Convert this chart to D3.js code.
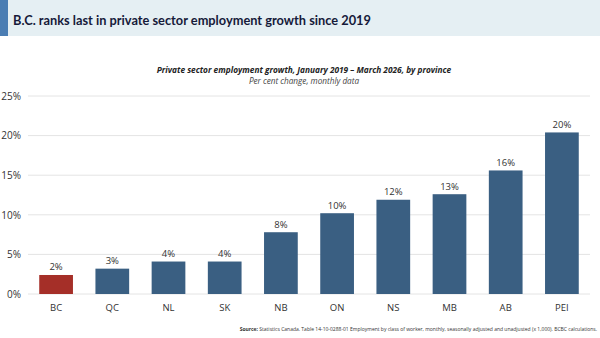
<!DOCTYPE html>
<html>
<head>
<meta charset="utf-8">
<script src="https://cdn.jsdelivr.net/npm/d3@7"></script>
<style>
  body { margin: 0; background: #fff; }
  svg { display: block; font-family: "Open Sans", "Noto Sans", sans-serif; }
</style>
</head>
<body>
<svg width="600" height="338"></svg>
<script>
// Data.
const provinces = ["BC", "QC", "NL", "SK", "NB", "ON", "NS", "MB", "AB", "PEI"];
const growth = [2.4, 3.2, 4.1, 4.1, 7.8, 10.2, 11.9, 12.6, 15.6, 20.4];
const yTicks = [0, 5, 10, 15, 20, 25];

const svg = d3.select("svg");
const width = 600;

// Title band.
svg.append("rect").attr("x", 0).attr("y", 0).attr("width", width).attr("height", 36)
  .attr("fill", "#e5eff3");
svg.append("rect").attr("x", 0).attr("y", 0).attr("width", 8).attr("height", 36)
  .attr("fill", "#4a7db3");
svg.append("text").attr("x", 13).attr("y", 24.5)
  .attr("font-family", "Lato, sans-serif")
  .attr("font-size", 12.8).attr("font-weight", 700).attr("fill", "#161a3a")
  .text("B.C. ranks last in private sector employment growth since 2019");

// Chart subtitles.
svg.append("text").attr("x", 304).attr("y", 73).attr("text-anchor", "middle")
  .attr("font-size", 8.3).attr("font-weight", 700).attr("font-style", "italic").attr("fill", "#222")
  .text("Private sector employment growth, January 2019 \u2013 March 2026, by province");
svg.append("text").attr("x", 304).attr("y", 83.5).attr("text-anchor", "middle")
  .attr("font-size", 8.2).attr("font-style", "italic").attr("fill", "#444")
  .text("Per cent change, monthly data");

// Scales.
const x = d3.scaleBand().domain(provinces).range([28, 590]).paddingInner(0.4).paddingOuter(0.2);
const y = d3.scaleLinear().domain([0, 25]).range([294, 96]);

// Gridlines.
svg.append("g").selectAll("line").data(yTicks).join("line")
  .attr("x1", 28).attr("x2", 590)
  .attr("y1", (d) => y(d)).attr("y2", (d) => y(d))
  .attr("stroke", "#e4e4e4").attr("stroke-width", 1);

// Y axis labels.
const yAxis = svg.append("g").attr("transform", "translate(21,0)")
  .call(d3.axisLeft(y).tickValues(yTicks).tickSize(0).tickPadding(0).tickFormat((d) => d + "%"));
yAxis.select(".domain").remove();
yAxis.selectAll("text").attr("font-size", 10).attr("fill", "#333")
  .attr("font-family", "\"Open Sans\", sans-serif");

// Bars.
svg.append("g").selectAll("rect").data(growth).join("rect")
  .attr("x", (d, i) => x(provinces[i]))
  .attr("width", x.bandwidth())
  .attr("y", (d) => y(d))
  .attr("height", (d) => y(0) - y(d))
  .attr("fill", (d, i) => (i === 0 ? "#a52f28" : "#3a5f82"));

// Value labels.
svg.append("g").selectAll("text").data(growth).join("text")
  .attr("x", (d, i) => x(provinces[i]) + x.bandwidth() / 2)
  .attr("y", (d) => y(d) - 4.5)
  .attr("text-anchor", "middle").attr("font-size", 9.5).attr("fill", "#333")
  .text((d) => Math.round(d) + "%");

// X axis labels.
const xAxis = svg.append("g").attr("transform", "translate(0,294)")
  .call(d3.axisBottom(x).tickSize(0).tickPadding(10));
xAxis.select(".domain").remove();
xAxis.selectAll("text").attr("font-size", 9.5).attr("fill", "#333")
  .attr("font-family", "\"Open Sans\", sans-serif");

// Source note.
const src = svg.append("text").attr("x", 597).attr("y", 331).attr("text-anchor", "end")
  .attr("font-size", 5).attr("fill", "#333");
src.append("tspan").attr("font-weight", 700).text("Source: ");
src.append("tspan").text("Statistics Canada. Table 14-10-0288-01  Employment by class of worker, monthly, seasonally adjusted and unadjusted (x 1,000). BCBC calculations.");
</script>
</body>
</html>
